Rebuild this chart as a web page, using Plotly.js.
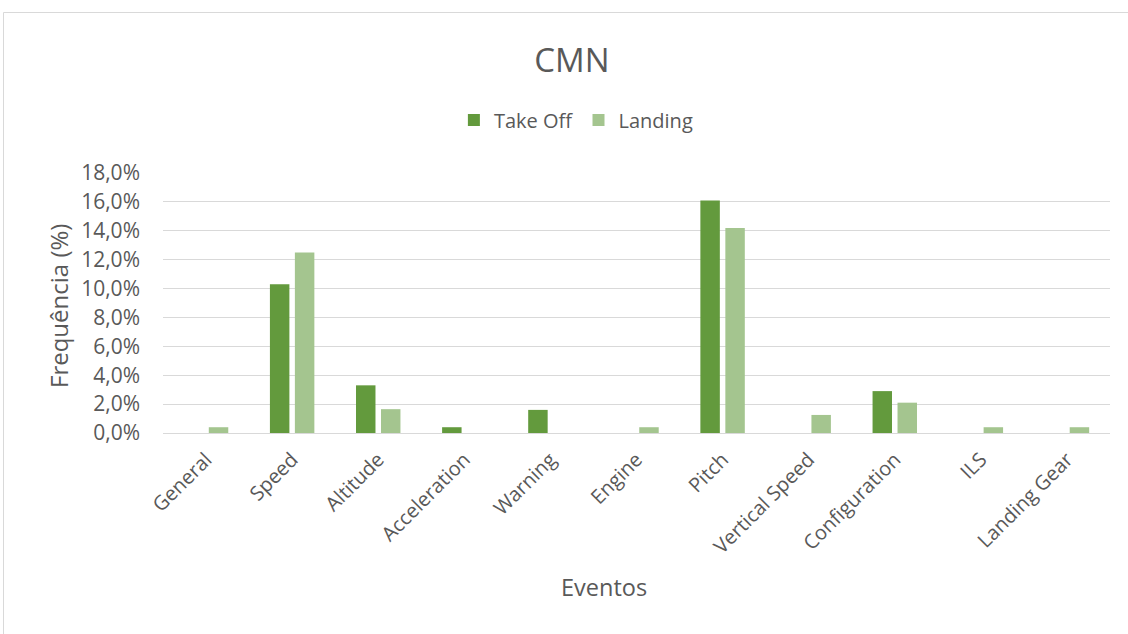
<!DOCTYPE html>
<html>
<head>
<meta charset="utf-8">
<script src="https://cdn.plot.ly/plotly-3.0.1.min.js"></script>
<style>
html,body{margin:0;padding:0;background:#fff;}
#chart{width:1128px;height:634px;}
</style>
</head>
<body>
<div id="chart"></div>
<script>
const categories = ["General","Speed","Altitude","Acceleration","Warning","Engine","Pitch","Vertical Speed","Configuration","ILS","Landing Gear"];
const takeOff = [0, 10.3, 3.3, 0.4, 1.6, 0, 16.1, 0, 2.9, 0, 0];
const landing = [0.4, 12.5, 1.65, 0, 0, 0.4, 14.2, 1.25, 2.1, 0.4, 0.4];
const yTicks = [0, 2, 4, 6, 8, 10, 12, 14, 16, 18];
const seriesNames = ["Take Off", "Landing"];

const FONT = "Open Sans, Lato, sans-serif";
const GREY = "#595959";

const traces = [
  {type:"bar", name:seriesNames[0], x:categories, y:takeOff,
   marker:{color:"#639a3d", line:{width:0}}, hoverinfo:"x+y"},
  {type:"bar", name:seriesNames[1], x:categories, y:landing,
   marker:{color:"#a4c58f", line:{width:0}}, hoverinfo:"x+y"}
];

const layout = {
  width:1128, height:634,
  paper_bgcolor:"#ffffff", plot_bgcolor:"#ffffff",
  font:{family:FONT, color:GREY, size:18},
  margin:{l:163, r:18, t:173, b:201, pad:0},
  separators:",.",
  title:{text:"CMN", font:{family:FONT, size:33, color:GREY},
         xref:"container", x:0.507, xanchor:"center",
         yref:"container", y:1-60/634, yanchor:"middle"},
  showlegend:true,
  legend:{orientation:"h", xref:"paper", x:0.436, xanchor:"center",
          y:(433-120)/260, yanchor:"middle", font:{family:FONT, size:20, color:GREY},
          traceorder:"normal", itemwidth:30},
  barmode:"group",
  bargap:0.42,
  bargroupgap:0.22,
  xaxis:{type:"category", tickangle:-45, showgrid:false, showline:true,
         linecolor:"#d9d9d9", linewidth:1, ticks:"", zeroline:false, ticklabelstandoff:6,
         tickfont:{family:FONT, size:20, color:GREY}, automargin:false},
  yaxis:{range:[0,18], tickvals:yTicks, ticktext:yTicks.map(v=>v.toFixed(1).replace(".",",")+"%"),
         showgrid:true, gridcolor:"#d9d9d9", gridwidth:1, zeroline:false,
         showline:false, ticks:"", ticklabelstandoff:22,
         tickfont:{family:FONT, size:21, color:GREY}, automargin:false},
  annotations:[
    {text:"Eventos", xref:"paper", yref:"paper", x:(604-163)/947, y:(433-587)/260,
     xanchor:"center", yanchor:"middle", showarrow:false,
     font:{family:FONT, size:23.5, color:GREY}},
    {text:"Frequência (%)", xref:"paper", yref:"paper", x:(58-163)/947, y:(433-306)/260,
     xanchor:"center", yanchor:"middle", textangle:-90, showarrow:false,
     font:{family:FONT, size:24, color:GREY}}
  ],
  shapes:[
    {type:"rect", xref:"paper", yref:"paper",
     x0:(3.5-163)/947, x1:1.2, y0:(433-12.5)/260, y1:-1.5,
     line:{color:"#d9d9d9", width:1}, fillcolor:"rgba(0,0,0,0)", layer:"below"}
  ]
};

Plotly.newPlot("chart", traces, layout, {displayModeBar:false, staticPlot:true});
</script>
</body>
</html>
